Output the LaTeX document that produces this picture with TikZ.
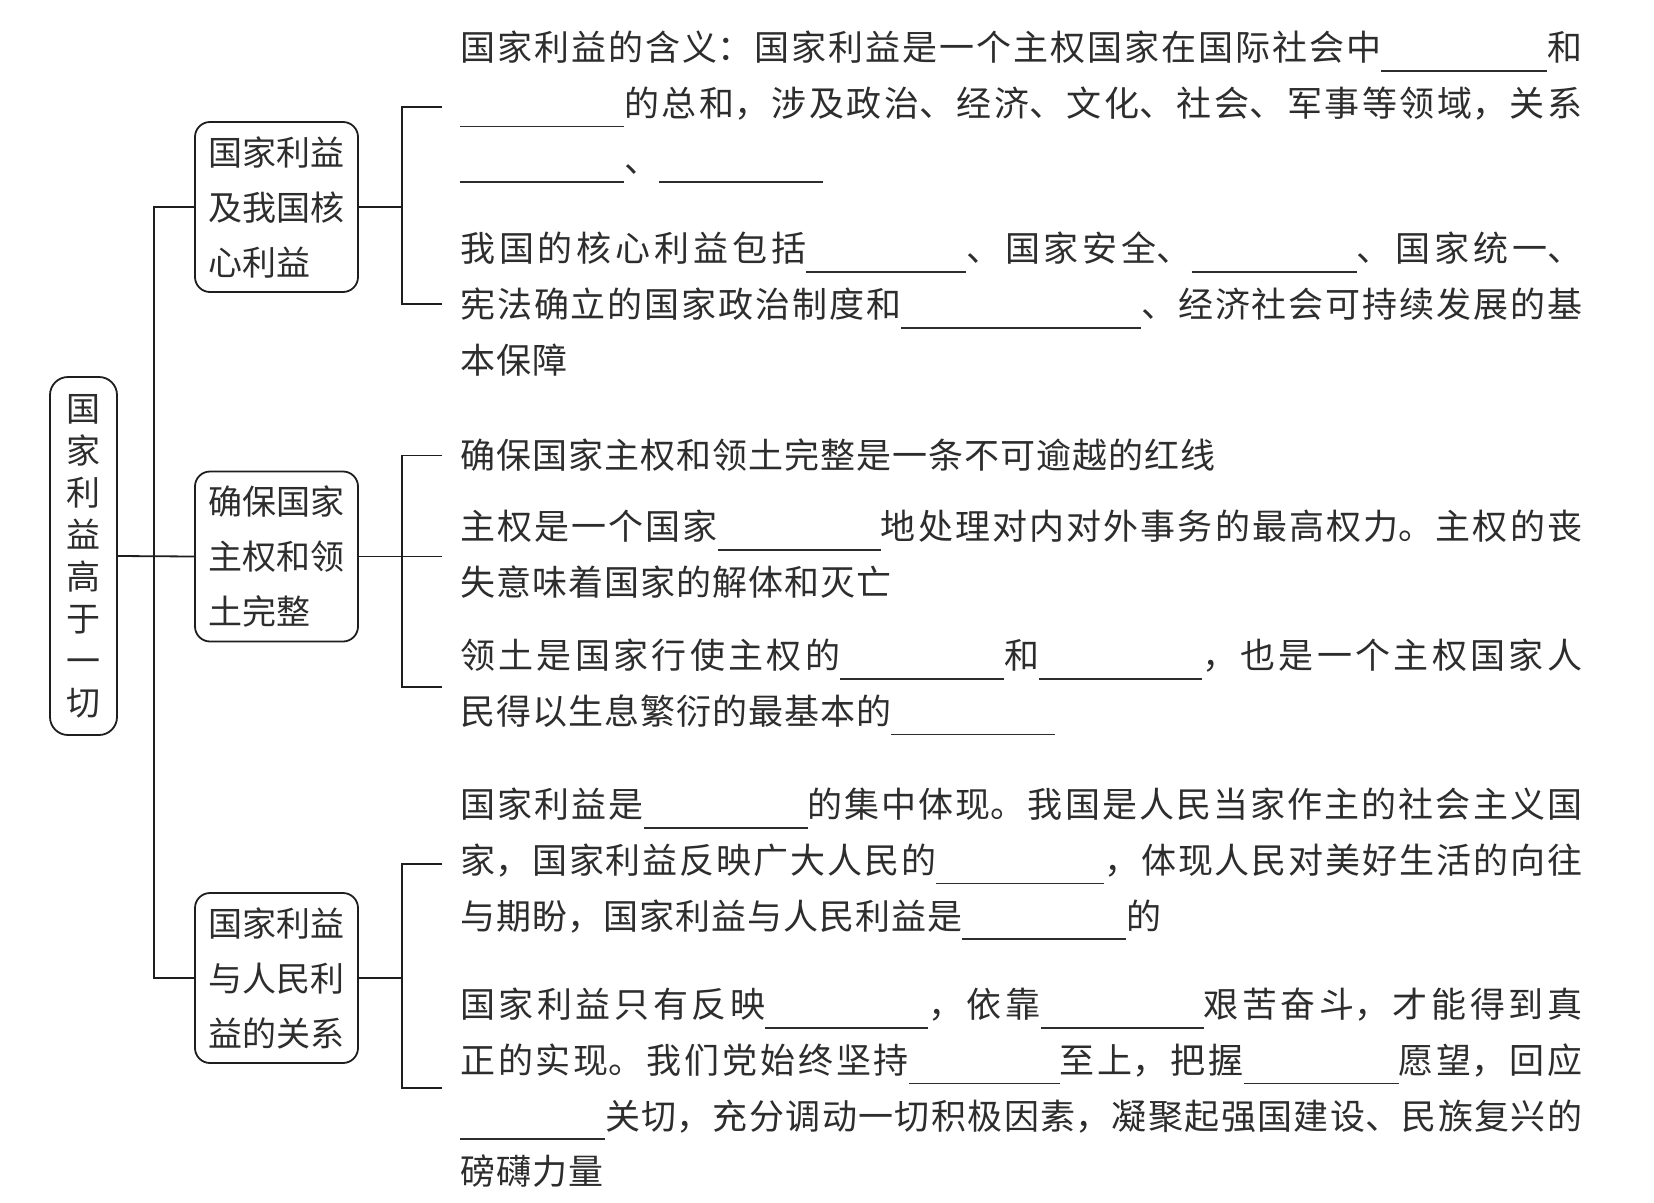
\documentclass[tikz,border=0pt]{standalone}
\usepackage{fontspec}
\newfontfamily\cjk{Noto Sans CJK SC}
\usetikzlibrary{positioning}
\XeTeXlinebreaklocale "zh"
\XeTeXlinebreakskip=1pt plus 6pt
\setlength{\parindent}{0pt}
\definecolor{ink}{RGB}{45,45,45}
\definecolor{wire}{RGB}{30,30,30}
\newcommand{\blank}[1]{\rule[-11pt]{#1pt}{1.6pt}}

\begin{document}
\begin{tikzpicture}[
      x=1pt, y=-1pt,
      every node/.style={font=\cjk, text=ink},
      link/.style={draw=wire, line width=1.8pt},
      rootbox/.style={draw=wire, line width=1.8pt, rounded corners=18pt,
                      minimum width=67pt, minimum height=358pt, inner sep=0pt,
                      align=center, font=\cjk\fontsize{34}{42}\selectfont},
      topic/.style={draw=wire, line width=1.8pt, rounded corners=15pt,
                    minimum width=163pt, minimum height=170pt, inner sep=0pt,
                    align=left, font=\cjk\fontsize{34}{55}\selectfont},
      para/.style={anchor=north west, inner sep=0pt, text width=1122pt,
                   align=justify, font=\cjk\fontsize{35}{55.6}\selectfont},
    ]
    \useasboundingbox (0,0) rectangle (1654,1202);

    % ── Root and topics ─────────────────────────────────────
    \node[rootbox] (root) at (83.5,556) {国\\家\\利\\益\\高\\于\\一\\切};
    \node[topic] (topic1) at (276.5,207) {国家利益\\及我国核\\心利益};
    \node[topic] (topic2) at (276.5,556.5) {确保国家\\主权和领\\土完整};
    \node[topic] (topic3) at (276.5,978) {国家利益\\与人民利\\益的关系};

    % ── Topic 1 ─────────────────────────────────────────────
    \node[para] (p11) at (460,31) {国家利益的含义：国家利益是一个主权国家在国际社会中\blank{166}和\linebreak
      \blank{164}的总和，涉及政治、经济、文化、社会、军事等领域，关系\linebreak
      \blank{164}、\blank{164}};
    \node[para] (p12) at (460,232) {我国的核心利益包括\blank{160}、国家安全、\blank{165}、国家统一、\linebreak
      宪法确立的国家政治制度和\blank{240}、经济社会可持续发展的基\linebreak
      本保障};

    % ── Topic 2 ─────────────────────────────────────────────
    \node[para] (p21) at (460,439) {确保国家主权和领土完整是一条不可逾越的红线};
    \node[para] (p22) at (460,510) {主权是一个国家\blank{163}地处理对内对外事务的最高权力。主权的丧\linebreak
      失意味着国家的解体和灭亡};
    \node[para] (p23) at (460,639) {领土是国家行使主权的\blank{164}和\blank{163}，也是一个主权国家人\linebreak
      民得以生息繁衍的最基本的\blank{164}};

    % ── Topic 3 ─────────────────────────────────────────────
    \node[para] (p31) at (460,788) {国家利益是\blank{164}的集中体现。我国是人民当家作主的社会主义国\linebreak
      家，国家利益反映广大人民的\blank{168}，体现人民对美好生活的向往\linebreak
      与期盼，国家利益与人民利益是\blank{164}的};
    \node[para] (p32) at (460,988) {国家利益只有反映\blank{163}，依靠\blank{163}艰苦奋斗，才能得到真\linebreak
      正的实现。我们党始终坚持\blank{151}至上，把握\blank{155}愿望，回应\linebreak
      \blank{145}关切，充分调动一切积极因素，凝聚起强国建设、民族复兴的\linebreak
      磅礴力量};

    % ── Connectors ──────────────────────────────────────────
    \coordinate (trunk) at (154,556);
    \foreach \p in {p11,p12,p21,p22,p23,p31,p32}
      \coordinate (s\p) at ([xshift=-18pt]\p.west);
    \coordinate (b1) at ([xshift=43pt]topic1.east);
    \coordinate (b2) at ([xshift=43pt]topic2.east);
    \coordinate (b3) at ([xshift=43pt]topic3.east);

    \draw[link] (topic1.west) -| (trunk) |- (topic3.west);
    \draw[link] (root.east) -- (topic2.west);

    \draw[link] (topic1.east) -- (b1);
    \draw[link] (sp11) -| (b1) |- (sp12);
    \draw[link] (topic2.east) -- (topic2.east -| sp22);
    \draw[link] (sp21) -| (b2) |- (sp23);
    \draw[link] (topic3.east) -- (b3);
    \draw[link] (sp31) -| (b3) |- (sp32);
  \end{tikzpicture}
\end{document}
